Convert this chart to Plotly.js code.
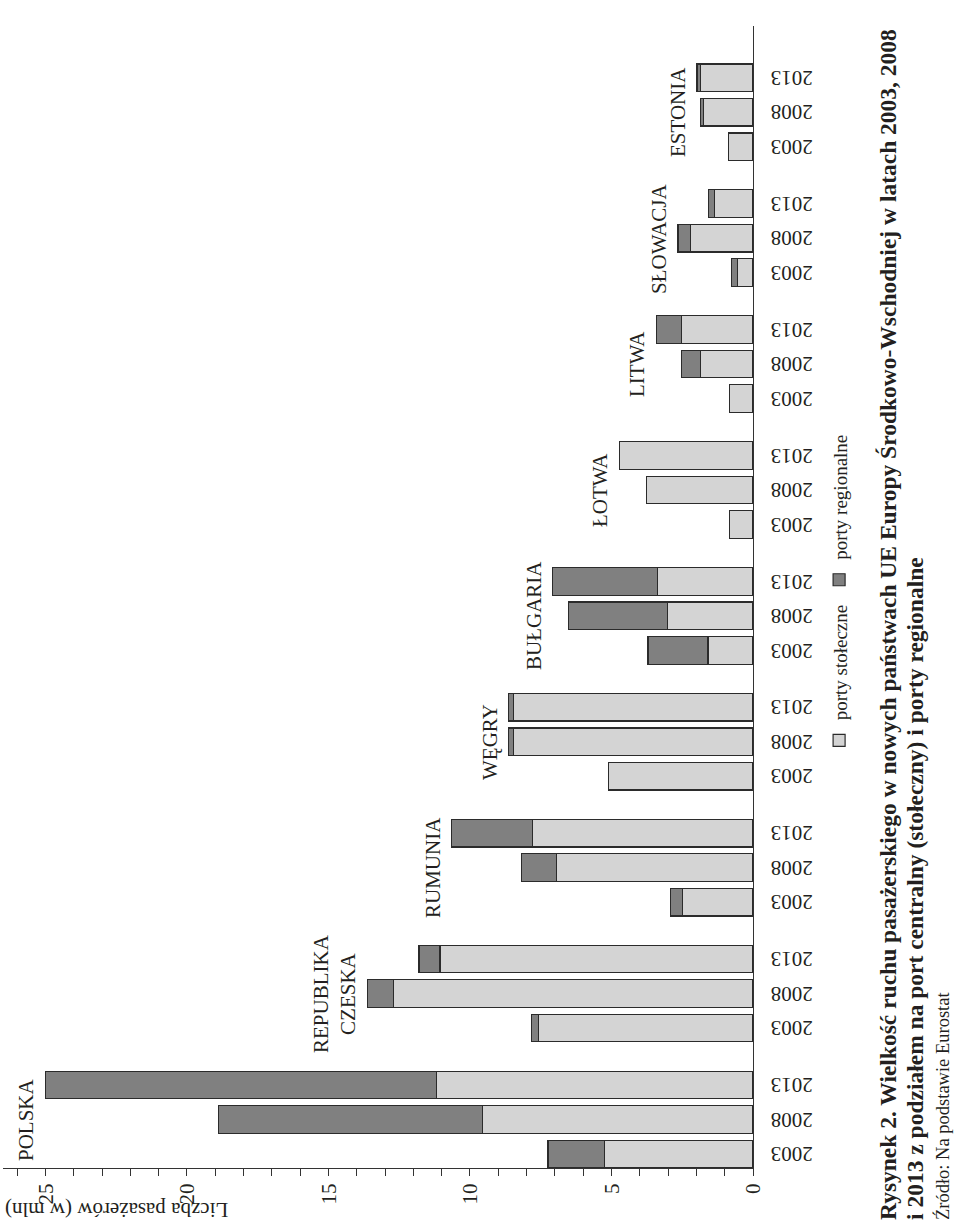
<!DOCTYPE html>
<html>
<head>
<meta charset="utf-8">
<script src="https://cdn.plot.ly/plotly-3.0.1.min.js"></script>
<style>
  html, body { margin: 0; padding: 0; background: #fff; overflow: hidden; }
  body { width: 960px; height: 1226px; position: relative; }
  /* the page is printed sideways, so the whole chart is turned 90deg to the left */
  #chart {
    position: absolute; top: 0; left: 0;
    width: 1226px; height: 960px;
    transform-origin: 0 0;
    transform: translate(0, 1226px) rotate(-90deg);
  }
</style>
</head>
<body>
<div id="chart"></div>
<script>
// Countries and years
const countries = ['POLSKA', 'REPUBLIKA<br>CZESKA', 'RUMUNIA', 'WĘGRY', 'BUŁGARIA', 'ŁOTWA', 'LITWA', 'SŁOWACJA', 'ESTONIA'];
const years = ['2003', '2008', '2013'];

// Passengers (mln), per country: 2003, 2008, 2013
const capitalPorts = [
    5.24, 9.55, 11.18,   // Polska
    7.59, 12.71, 11.06,  // Republika Czeska
    2.49, 6.94, 7.79,    // Rumunia
    5.11, 8.46, 8.46,    // Węgry
    1.59, 3.02, 3.38,    // Bułgaria
    0.83, 3.77, 4.73,    // Łotwa
    0.82, 1.86, 2.53,    // Litwa
    0.55, 2.21, 1.36,    // Słowacja
    0.87, 1.74, 1.86     // Estonia
];
const regionalPorts = [
    2.00, 9.34, 13.82,
    0.24, 0.92, 0.74,
    0.42, 1.24, 2.86,
    0.00, 0.17, 0.17,
    2.12, 3.49, 3.70,
    0.00, 0.00, 0.00,
    0.00, 0.68, 0.88,
    0.21, 0.44, 0.20,
    0.00, 0.12, 0.12
];

const GROUP_STEP = 3.65;  // distance between country groups, in bar slots
const FONT = 'Liberation Serif, Times New Roman, serif';
const INK = '#231f20';

// bar positions on the category axis
const xPos = [];
const tickText = [];
countries.forEach((c, g) => {
    years.forEach((y, j) => {
        xPos.push(g * GROUP_STEP + j);
        tickText.push(y);
    });
});

const barLine = { color: '#2b2b2b', width: 1.2 };

const traces = [
    {
        type: 'bar',
        name: 'porty stołeczne',
        x: xPos,
        y: capitalPorts,
        width: 0.8,
        marker: { color: '#d4d4d4', line: barLine }
    },
    {
        type: 'bar',
        name: 'porty regionalne',
        x: xPos,
        y: regionalPorts,
        width: 0.8,
        marker: { color: '#808080', line: barLine }
    }
];

// country names above the highest bar of each group
const annotations = countries.map((c, g) => {
    let top = 0;
    for (let j = 0; j < years.length; j++) {
        const k = g * years.length + j;
        top = Math.max(top, capitalPorts[k] + regionalPorts[k]);
    }
    return {
        x: g * GROUP_STEP + 1,
        y: top,
        xref: 'x', yref: 'y',
        text: c,
        showarrow: false,
        yanchor: 'bottom',
        yshift: 5,
        font: { family: FONT, size: 21, color: INK }
    };
});

// axis title, caption and source
annotations.push(
    {
        xref: 'paper', yref: 'paper',
        x: -0.037, y: 1.0,
        xanchor: 'center', yanchor: 'top',
        text: 'Liczba pasażerów (w mln)',
        textangle: -90,
        showarrow: false,
        font: { family: FONT, size: 21, color: INK }
    },
    {
        xref: 'paper', yref: 'paper',
        x: -0.047, y: -0.18,
        xanchor: 'left', yanchor: 'middle',
        text: '<b>Rysynek 2. Wielkość ruchu pasażerskiego w nowych państwach UE Europy Środkowo-Wschodniej w latach 2003, 2008</b>',
        showarrow: false,
        font: { family: FONT, size: 23.5, color: INK }
    },
    {
        xref: 'paper', yref: 'paper',
        x: -0.047, y: -0.216,
        xanchor: 'left', yanchor: 'middle',
        text: '<b>i 2013 z podziałem na port centralny (stołeczny) i porty regionalne</b>',
        showarrow: false,
        font: { family: FONT, size: 23.5, color: INK }
    },
    {
        xref: 'paper', yref: 'paper',
        x: -0.047, y: -0.252,
        xanchor: 'left', yanchor: 'middle',
        text: 'Źródło: Na podstawie Eurostat',
        showarrow: false,
        font: { family: FONT, size: 18.5, color: INK }
    }
);

const layout = {
    width: 1226,
    height: 960,
    margin: { l: 58, r: 26, t: 3, b: 207 },
    paper_bgcolor: '#ffffff',
    plot_bgcolor: '#ffffff',
    font: { family: FONT, color: INK, size: 21 },
    barmode: 'stack',
    showlegend: true,
    legend: {
        orientation: 'h',
        traceorder: 'normal',
        x: 0.357, xanchor: 'left',
        y: -0.115, yanchor: 'middle',
        font: { family: FONT, size: 19, color: INK },
        bgcolor: 'rgba(0,0,0,0)'
    },
    xaxis: {
        range: [-0.406, 32.7],
        tickmode: 'array',
        tickvals: xPos,
        ticktext: tickText,
        tickangle: -90,
        ticks: '',
        showgrid: false,
        zeroline: false,
        showline: true,
        linecolor: '#333',
        linewidth: 1.3,
        ticklabelstandoff: 8,
        tickfont: { family: FONT, size: 21, color: INK }
    },
    yaxis: {
        range: [0, 26.5],
        dtick: 5,
        ticks: 'outside',
        ticklen: 7,
        tickwidth: 1,
        tickcolor: '#333',
        minor: { dtick: 1, ticks: 'outside', ticklen: 7, tickwidth: 1, tickcolor: '#333' },
        showgrid: false,
        zeroline: false,
        showline: true,
        linecolor: '#333',
        linewidth: 1.3,
        ticklabelstandoff: 3,
        tickfont: { family: FONT, size: 21, color: INK }
    },
    annotations: annotations
};

Plotly.newPlot('chart', traces, layout, { displayModeBar: false, staticPlot: true });
</script>
</body>
</html>
